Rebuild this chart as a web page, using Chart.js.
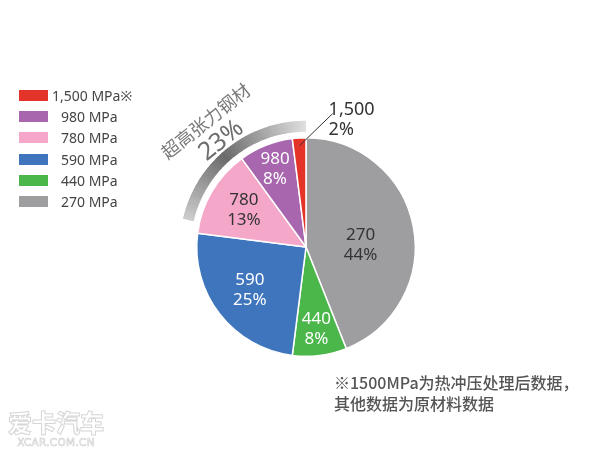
<!DOCTYPE html>
<html>
<head>
<meta charset="utf-8">
<script src="https://cdn.jsdelivr.net/npm/chart.js@4.4.0/dist/chart.umd.min.js"></script>
<style>
  body { margin: 0; background: #fff; }
  #wrap { position: relative; width: 608px; height: 455px; overflow: hidden; }
  #legend { position: absolute; left: 19px; top: 85px; font-family: "Noto Sans", sans-serif; font-size: 14px; color: #444; }
  #legend .row { display: flex; align-items: center; height: 21.2px; }
  #legend .box { width: 29px; height: 11px; flex: none; }
  #legend .txt { white-space: nowrap; margin-left: 13px; }
  #legend .txt.first { margin-left: 4px; }
  #note { position: absolute; left: 334px; top: 372px; font-family: "Noto Sans CJK SC", sans-serif; font-size: 16px; line-height: 21px; color: #555; font-weight: 500; }
  #mark { position: absolute; left: 8px; top: 408px; width: 96px; font-family: "Noto Sans CJK SC", sans-serif; color: #fff; text-align: center; }
  #mark .big { font-size: 24px; font-weight: 900; -webkit-text-stroke: 1px #d6d6d6; line-height: 28px; }
  #mark .small { font-family: "DejaVu Sans", sans-serif; font-size: 10.5px; color: #fff; -webkit-text-stroke: 0.6px #cfcfcf; letter-spacing: 0.3px; }
</style>
</head>
<body>
<div id="wrap">
  <canvas id="myChart" width="608" height="455"></canvas>
  <div id="legend"></div>
  <div id="note">※1500MPa为热冲压处理后数据，<br>其他数据为原材料数据</div>
  <div id="mark"><div class="big">爱卡汽车</div><div class="small">XCAR.COM.CN</div></div>
</div>
<script>
// slices clockwise from 12 o'clock
const grades = ["270", "440", "590", "780", "980", "1,500"];
const shares = [44, 8, 25, 13, 8, 2];
const colors = ["#9e9ea1", "#4bb74b", "#3e75bd", "#f4a7c9", "#a766ae", "#e4342a"];
const legendOrder = [5, 4, 3, 2, 1, 0];
const highGradeLabel = "超高张力钢材";
const highGradeShare = "23%";

// legend
const legendEl = document.getElementById("legend");
legendOrder.forEach((i) => {
  const row = document.createElement("div");
  row.className = "row";
  const box = document.createElement("div");
  box.className = "box";
  box.style.background = colors[i];
  const txt = document.createElement("div");
  txt.className = i === 5 ? "txt first" : "txt";
  txt.textContent = grades[i] + " MPa" + (i === 5 ? "※" : "");
  row.appendChild(box);
  row.appendChild(txt);
  legendEl.appendChild(row);
});

// label placement per slice (fraction of radius, angle nudge in degrees) and text colour
const labelRadius = [0.5, 0.76, 0.65, 0.66, 0.77];
const labelNudge = [9, 0, 0, 0, 0];
const labelColor = ["#333", "#fff", "#fff", "#333", "#fff"];

const sliceLabels = {
  id: "sliceLabels",
  afterDatasetsDraw(chart) {
    const c = chart.ctx;
    const arcs = chart.getDatasetMeta(0).data;
    c.save();
    c.font = "17px 'Noto Sans', sans-serif";
    c.textAlign = "center";
    c.textBaseline = "middle";
    arcs.forEach((a, i) => {
      if (i >= labelRadius.length) return;
      const mid = (a.startAngle + a.endAngle) / 2 + labelNudge[i] * Math.PI / 180;
      const r = a.outerRadius * labelRadius[i];
      const x = a.x + Math.cos(mid) * r;
      const y = a.y + Math.sin(mid) * r;
      c.fillStyle = labelColor[i];
      c.fillText(grades[i], x, y - 10);
      c.fillText(shares[i] + "%", x, y + 10);
    });

    // small red slice: leader line and outside label
    const red = arcs[5];
    const mid = (red.startAngle + red.endAngle) / 2;
    const x0 = red.x + Math.cos(mid) * red.outerRadius * 0.93;
    const y0 = red.y + Math.sin(mid) * red.outerRadius * 0.93;
    c.strokeStyle = "#333";
    c.lineWidth = 1;
    c.beginPath();
    c.moveTo(x0, y0);
    c.lineTo(x0 + 33, y0 - 32);
    c.stroke();
    c.fillStyle = "#333";
    c.textAlign = "left";
    c.font = "18px 'Noto Sans', sans-serif";
    c.fillText(grades[5], x0 + 29, y0 - 36);
    c.fillText(shares[5] + "%", x0 + 29, y0 - 16);

    // gradient band over the high-strength grades
    const a0 = arcs[3].startAngle + 0.1;
    const a1 = arcs[5].endAngle;
    const rin = red.outerRadius + 6;
    const rout = red.outerRadius + 17;
    const steps = 80;
    for (let s = 0; s < steps; s++) {
      const t = s / steps;
      const u = 1 - Math.abs(t - 0.45) / 0.55;
      const g = Math.round(225 - 120 * Math.max(0, u));
      c.fillStyle = "rgb(" + g + "," + g + "," + g + ")";
      const sa = a0 + (a1 - a0) * t;
      const ea = a0 + (a1 - a0) * (s + 1.2) / steps;
      c.beginPath();
      c.arc(red.x, red.y, rout, sa, Math.min(ea, a1));
      c.arc(red.x, red.y, rin, Math.min(ea, a1), sa, true);
      c.closePath();
      c.fill();
    }

    // rotated caption along the band
    const bm = (a0 + a1) / 2;
    c.translate(red.x, red.y);
    c.rotate(bm + Math.PI / 2);
    c.textAlign = "center";
    c.textBaseline = "middle";
    c.fillStyle = "#6d6d6d";
    c.font = "25px 'Noto Sans', sans-serif";
    c.fillText(highGradeShare, 0, -136);
    c.fillStyle = "#7a7a7a";
    c.font = "18px 'Noto Sans CJK SC', sans-serif";
    c.fillText(highGradeLabel, 0, -161);
    c.restore();
  }
};

const ctx = document.getElementById("myChart");
const steelChart = new Chart(ctx, {
  type: "pie",
  data: {
    labels: grades,
    datasets: [
      {
        data: shares,
        backgroundColor: colors,
        borderColor: "#fff",
        borderWidth: 1.5,
        hoverOffset: 0,
      },
    ],
  },
  options: {
    responsive: false,
    animation: false,
    layout: { padding: { left: 196, right: 192, top: 137, bottom: 98 } },
    plugins: {
      legend: { display: false },
      tooltip: { enabled: false },
    },
  },
  plugins: [sliceLabels],
});
</script>
</body>
</html>
